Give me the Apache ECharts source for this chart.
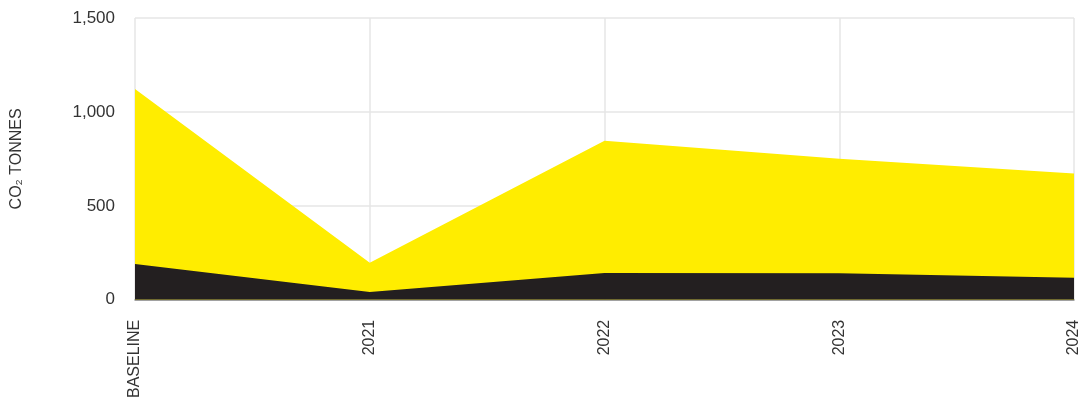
<!DOCTYPE html>
<html>
<head>
<meta charset="utf-8">
<script src="https://cdn.jsdelivr.net/npm/echarts@6/dist/echarts.min.js"></script>
<style>
  html, body { margin: 0; padding: 0; background: #fff; }
  #chart { width: 1092px; height: 401px; }
</style>
</head>
<body>
<div id="chart"></div>
<script>
// categories along the bottom
const years = ['BASELINE', '2021', '2022', '2023', '2024']
// yellow area (total), black area drawn over it
const totalTonnes = [1122, 197, 847, 750, 672]
const blackTonnes = [190, 41, 142, 141, 117]
const yTicks = [0, 500, 1000, 1500]

const chart = echarts.init(document.getElementById('chart'))

const fontFamily = '"Liberation Sans", Arial, sans-serif'

chart.setOption({
    animation: false,
    grid: { left: 135, right: 18, top: 18, bottom: 101 },
    xAxis: {
        type: 'category',
        data: years,
        boundaryGap: false,
        axisLine: { show: true, lineStyle: { color: '#888', width: 1.5 } },
        axisTick: { show: false },
        splitLine: { show: true, lineStyle: { color: '#e6e6e6', width: 1.5 } },
        axisLabel: { rotate: 90, margin: 20, interval: 0, color: '#333', fontFamily, fontSize: 16 }
    },
    yAxis: {
        type: 'value',
        min: yTicks[0],
        max: yTicks[yTicks.length - 1],
        interval: 500,
        name: 'CO\u2082 TONNES',
        nameLocation: 'middle',
        nameGap: 110,
        nameTextStyle: { color: '#333', fontFamily, fontSize: 16 },
        axisLine: { show: false },
        axisTick: { show: false },
        splitLine: { lineStyle: { color: '#e6e6e6', width: 1.5 } },
        axisLabel: {
            margin: 20,
            color: '#333',
            fontFamily,
            fontSize: 17,
            formatter: v => v.toLocaleString('en-US')
        }
    },
    series: [
        {
            type: 'line',
            data: totalTonnes,
            symbol: 'none',
            lineStyle: { width: 0 },
            areaStyle: { color: '#ffed00', opacity: 1 },
            z: 2
        },
        {
            type: 'line',
            data: blackTonnes,
            symbol: 'none',
            lineStyle: { width: 0 },
            areaStyle: { color: '#231f20', opacity: 1 },
            z: 3
        }
    ]
})
</script>
</body>
</html>
